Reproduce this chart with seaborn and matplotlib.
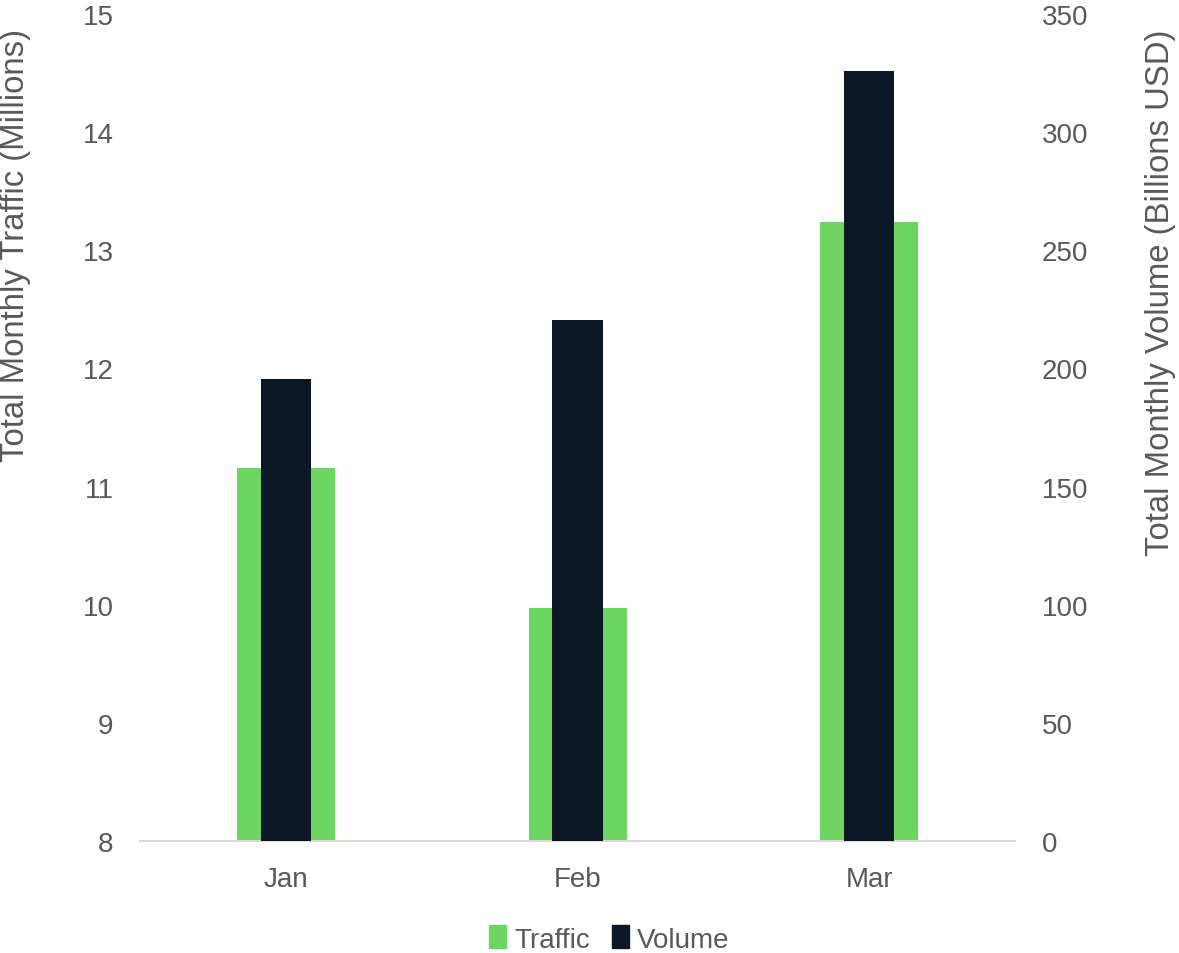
import pandas as pd
import matplotlib
matplotlib.use("Agg")
import matplotlib.pyplot as plt
import seaborn as sns
from matplotlib.patches import Patch

# data
months = ["Jan", "Feb", "Mar"]
traffic = [11.16, 9.97, 13.24]   # millions
volume = [195.5, 220.7, 325.7]   # billions USD

df = pd.DataFrame({"month": months, "traffic": traffic, "volume": volume})

green = "#6dd662"
navy = "#0c1726"
grey = "#595959"

sns.set_theme(style="white")
plt.rcParams["font.family"] = ["Liberation Sans", "DejaVu Sans"]

fig = plt.figure(figsize=(11.79, 9.54), dpi=100)
ax = fig.add_axes([0.1187, 0.1174, 0.7423, 0.8669])
ax2 = ax.twinx()

sns.barplot(data=df, x="month", y="traffic", color=green, width=0.336,
            saturation=1, linewidth=0, ax=ax)
sns.barplot(data=df, x="month", y="volume", color=navy, width=0.172,
            saturation=1, linewidth=0, ax=ax2)

ax.set_ylim(8, 15)
ax2.set_ylim(0, 350)
ax.set_xlim(-0.5, 2.5)
ax.set_yticks(range(8, 16))
ax2.set_yticks(range(0, 351, 50))

for a in (ax, ax2):
    for s in a.spines.values():
        s.set_visible(False)
    a.tick_params(length=0, labelsize=20, colors=grey, pad=19)
ax.spines["bottom"].set_visible(True)
ax.spines["bottom"].set_color("#d9d9d9")
ax.spines["bottom"].set_linewidth(1.5)
ax.tick_params(axis="x", pad=18)
ax.set_xlabel("")
ax.set_ylabel("")
ax2.set_ylabel("")

# axis titles sit above centre, as in the original
fig.text(0.0135, 0.743, "Total Monthly Traffic (Millions)", rotation=90,
         ha="center", va="center", fontsize=23.7, color=grey)
fig.text(0.984, 0.693, "Total Monthly Volume (Billions USD)", rotation=90,
         ha="center", va="center", fontsize=23.7, color=grey)

handles = [Patch(color=green, label="Traffic"), Patch(color=navy, label="Volume")]
fig.legend(handles=handles, loc="center", bbox_to_anchor=(0.517, 0.0147), ncol=2,
           frameon=False, fontsize=20, handlelength=0.6, handleheight=0.9,
           handletextpad=0.3, columnspacing=0.8, labelcolor=grey)

fig.savefig("out.png", dpi=100)
